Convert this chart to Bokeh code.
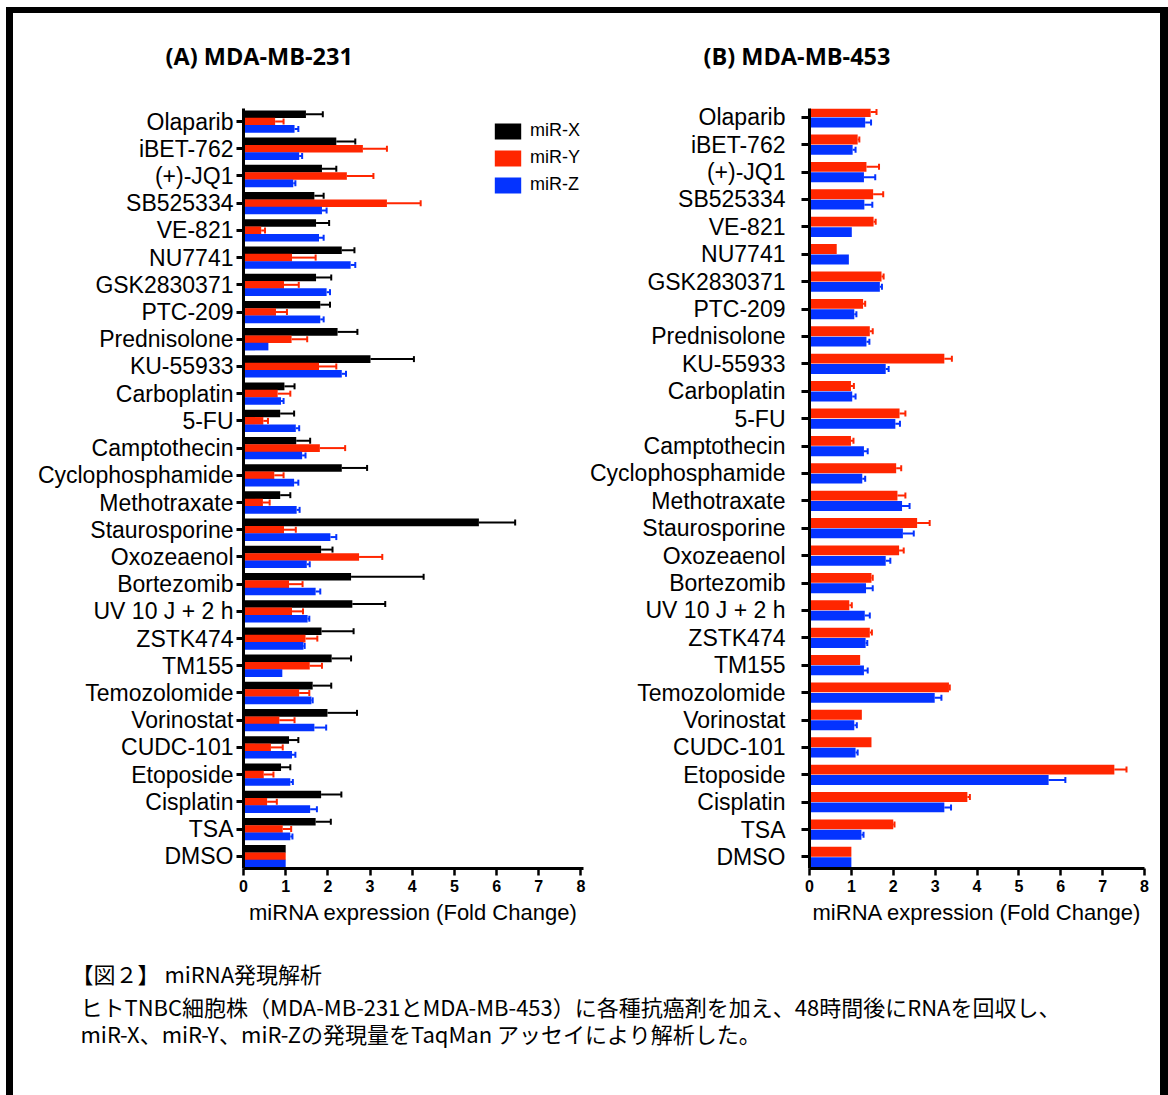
from bokeh.plotting import figure
from bokeh.models import (ColumnDataSource, Range1d, FixedTicker, Whisker, TeeHead,
                          Legend, LegendItem, Div)
from bokeh.layouts import row, column
from bokeh.transform import dodge
from bokeh.core.properties import value
from bokeh.embed import file_html
from bokeh.resources import INLINE

# ---------------- data (top to bottom) ----------------
categories = ["Olaparib", "iBET-762", "(+)-JQ1", "SB525334", "VE-821", "NU7741",
              "GSK2830371", "PTC-209", "Prednisolone", "KU-55933", "Carboplatin",
              "5-FU", "Camptothecin", "Cyclophosphamide", "Methotraxate",
              "Staurosporine", "Oxozeaenol", "Bortezomib", "UV 10 J + 2 h",
              "ZSTK474", "TM155", "Temozolomide", "Vorinostat", "CUDC-101",
              "Etoposide", "Cisplatin", "TSA", "DMSO"]

series_names = ["miR-X", "miR-Y", "miR-Z"]

# Panel A: MDA-MB-231
a_x = [1.48, 2.20, 1.86, 1.68, 1.72, 2.33, 1.72, 1.82, 2.23, 3.01, 0.97, 0.87, 1.25, 2.33,
       0.87, 5.58, 1.84, 2.55, 2.58, 1.85, 2.09, 1.64, 1.99, 1.08, 0.89, 1.84, 1.71, 1.00]
a_x_err = [0.40, 0.45, 0.34, 0.22, 0.31, 0.30, 0.36, 0.23, 0.47, 1.03, 0.24, 0.33, 0.33, 0.60,
           0.24, 0.86, 0.27, 1.72, 0.78, 0.76, 0.46, 0.44, 0.70, 0.22, 0.22, 0.48, 0.36, 0.00]
a_y = [0.75, 2.83, 2.45, 3.40, 0.42, 1.15, 0.96, 0.77, 1.14, 1.79, 0.81, 0.47, 1.81, 0.73,
       0.46, 0.96, 2.74, 1.08, 1.15, 1.47, 1.57, 1.32, 0.85, 0.65, 0.48, 0.56, 0.93, 1.00]
a_y_err = [0.20, 0.57, 0.63, 0.80, 0.09, 0.56, 0.35, 0.26, 0.37, 0.41, 0.30, 0.11, 0.60, 0.22,
           0.16, 0.28, 0.55, 0.32, 0.26, 0.28, 0.29, 0.24, 0.36, 0.28, 0.23, 0.23, 0.20, 0.00]
a_z = [1.21, 1.32, 1.18, 1.86, 1.79, 2.54, 1.97, 1.82, 0.59, 2.33, 0.89, 1.24, 1.39, 1.20,
       1.26, 2.06, 1.50, 1.71, 1.52, 1.42, 0.92, 1.61, 1.68, 1.15, 1.11, 1.58, 1.11, 1.00]
a_z_err = [0.09, 0.07, 0.05, 0.11, 0.11, 0.11, 0.08, 0.08, 0.00, 0.10, 0.06, 0.08, 0.08, 0.10,
           0.07, 0.14, 0.07, 0.11, 0.04, 0.03, 0.00, 0.03, 0.28, 0.08, 0.06, 0.16, 0.05, 0.00]

# Panel B: MDA-MB-453
b_y = [1.46, 1.15, 1.36, 1.52, 1.53, 0.65, 1.72, 1.28, 1.44, 3.22, 0.99, 2.15, 0.99, 2.07,
       2.10, 2.57, 2.14, 1.48, 0.95, 1.44, 1.21, 3.33, 1.25, 1.48, 7.28, 3.77, 2.00, 1.00]
b_y_err = [0.14, 0.04, 0.30, 0.24, 0.05, 0.00, 0.05, 0.05, 0.07, 0.18, 0.07, 0.14, 0.06, 0.12,
           0.19, 0.30, 0.11, 0.03, 0.06, 0.05, 0.00, 0.02, 0.00, 0.00, 0.29, 0.06, 0.03, 0.00]
b_z = [1.33, 1.03, 1.30, 1.31, 1.01, 0.94, 1.68, 1.07, 1.36, 1.82, 1.02, 2.05, 1.30, 1.26,
       2.21, 2.23, 1.82, 1.35, 1.32, 1.34, 1.30, 2.99, 1.07, 1.10, 5.71, 3.22, 1.24, 1.00]
b_z_err = [0.14, 0.07, 0.27, 0.19, 0.00, 0.00, 0.05, 0.05, 0.07, 0.07, 0.08, 0.11, 0.09, 0.07,
           0.18, 0.26, 0.11, 0.16, 0.12, 0.04, 0.09, 0.16, 0.06, 0.05, 0.40, 0.16, 0.05, 0.00]

x_ticks = [0, 1, 2, 3, 4, 5, 6, 7, 8]
x_label = "miRNA expression (Fold Change)"
panel_titles = ["(A) MDA-MB-231", "(B) MDA-MB-453"]
caption_lines = ["【図２】 miRNA発現解析",
                 "ヒトTNBC細胞株（MDA-MB-231とMDA-MB-453）に各種抗癌剤を加え、48時間後にRNAを回収し、",
                 "miR-X、miR-Y、miR-Zの発現量をTaqMan アッセイにより解析した。"]

BLACK, RED, BLUE = "#000000", "#FF2600", "#0433FF"

N = len(categories)
pos = [N - 1 - i for i in range(N)]
LABEL_FONT = "Liberation Sans"


def make_panel(series, x_end, y_range, bar_h, width, mb_left, mb_right,
               label_standoff, tick_out):
    p = figure(width=width, height=852, x_range=Range1d(0, x_end),
               y_range=Range1d(*y_range), output_backend="svg",
               toolbar_location=None, title_location=None, min_border_left=mb_left,
               min_border_right=mb_right, min_border_top=25, min_border_bottom=67)
    p.outline_line_color = None
    p.xgrid.visible = False
    p.ygrid.visible = False
    renderers = []
    for vals, errs, color, off in series:
        src = ColumnDataSource(dict(pos=pos, val=vals,
                                    hi=[v + e for v, e in zip(vals, errs)]))
        r = p.hbar(y=dodge("pos", off, range=p.y_range), left=0, right="val",
                   height=bar_h, fill_color=color, line_color=None, source=src)
        renderers.append(r)
        keep = [i for i, e in enumerate(errs) if e > 0]
        wsrc = ColumnDataSource(dict(pos=[pos[i] for i in keep],
                                     val=[vals[i] for i in keep],
                                     hi=[vals[i] + errs[i] for i in keep]))
        w = Whisker(source=wsrc, base=dodge("pos", off, range=p.y_range),
                    lower="val", upper="hi", dimension="width",
                    line_color=color, line_width=2, level="annotation",
                    lower_head=None,
                    upper_head=TeeHead(size=6, line_color=color, line_width=2))
        p.add_layout(w)

    # x axis
    p.xaxis.ticker = FixedTicker(ticks=x_ticks)
    p.xaxis.minor_tick_line_color = None
    p.xaxis.axis_line_width = 3
    p.xaxis.major_tick_line_width = 2.5
    p.xaxis.major_tick_out = 7
    p.xaxis.major_tick_in = 0
    p.xaxis.major_label_text_font = LABEL_FONT
    p.xaxis.major_label_text_font_style = "bold"
    p.xaxis.major_label_text_font_size = "16px"
    p.xaxis.major_label_text_color = "black"
    p.xaxis.major_label_standoff = 4
    p.xaxis.axis_label = x_label
    p.xaxis.axis_label_text_font = LABEL_FONT
    p.xaxis.axis_label_text_font_style = "normal"
    p.xaxis.axis_label_text_font_size = "22px"
    p.xaxis.axis_label_text_color = "black"
    p.xaxis.axis_label_standoff = 5

    # y axis
    p.yaxis.ticker = FixedTicker(ticks=pos)
    p.yaxis.major_label_overrides = {pos[i]: categories[i] for i in range(N)}
    p.yaxis.minor_tick_line_color = None
    p.yaxis.axis_line_width = 3
    p.yaxis.major_tick_line_width = 3
    p.yaxis.major_tick_out = tick_out
    p.yaxis.major_tick_in = 0
    p.yaxis.major_label_text_font = LABEL_FONT
    p.yaxis.major_label_text_font_size = "23px"
    p.yaxis.major_label_text_color = "black"
    p.yaxis.major_label_standoff = label_standoff
    return p, renderers


pA, rA = make_panel([(a_x, a_x_err, BLACK, 0.27), (a_y, a_y_err, RED, 0.0),
                     (a_z, a_z_err, BLUE, -0.27)],
                    8.06, (-0.45, 27.48), 0.28, 573, 230, 3, 3, 7)
pB, rB = make_panel([(b_y, b_y_err, RED, 0.19), (b_z, b_z_err, BLUE, -0.19)],
                    8.0, (-0.42, 27.32), 0.36, 574, 220, 16, 16, 8)

legend = Legend(items=[LegendItem(label=series_names[k], renderers=[rA[k]]) for k in range(3)],
                location=(248, 673), orientation="vertical",
                glyph_width=33, glyph_height=20, label_height=20,
                label_standoff=6, spacing=6, padding=0, margin=0,
                border_line_color=None, background_fill_alpha=0,
                label_text_font=LABEL_FONT, label_text_font_size="18px",
                label_text_color="black")
pA.add_layout(legend)

# header with the two panel titles (pixel coordinates)
head = figure(width=1147, height=70, x_range=Range1d(0, 1147), y_range=Range1d(70, 0),
              output_backend="svg", toolbar_location=None, min_border=0,
              x_axis_type=None, y_axis_type=None)
head.outline_line_color = None
head.grid.visible = False
head.text(x=[152, 690], y=[42, 42], text=panel_titles,
          text_font=value("Open Sans"), text_font_style="bold", text_font_size="23.5px",
          text_baseline="middle", text_align="left", text_color="black")

# caption
cap = figure(width=1147, height=160, x_range=Range1d(0, 1147), y_range=Range1d(160, 0),
             output_backend="svg", toolbar_location=None, min_border=0,
             x_axis_type=None, y_axis_type=None)
cap.outline_line_color = None
cap.grid.visible = False
cap.text(x=[58, 67, 67], y=[37, 70, 97], text=caption_lines,
         text_font=value("Noto Sans CJK JP"), text_font_size="22px",
         text_baseline="middle", text_align="left", text_color="black")


def bar(w, h, color="black"):
    return Div(text="", width=w, height=h, margin=0,
               styles={"background-color": color})


inner = column(bar(1162, 6),
               row(bar(7, 70), head, bar(8, 70)),
               row(bar(7, 852), pA, pB, bar(8, 852)),
               row(bar(7, 160), cap, bar(8, 160)))
layout = column(bar(1168, 7, "white"), row(bar(6, 1088, "white"), inner))

open("out.html", "w").write(file_html(layout, INLINE, "miRNA"))
